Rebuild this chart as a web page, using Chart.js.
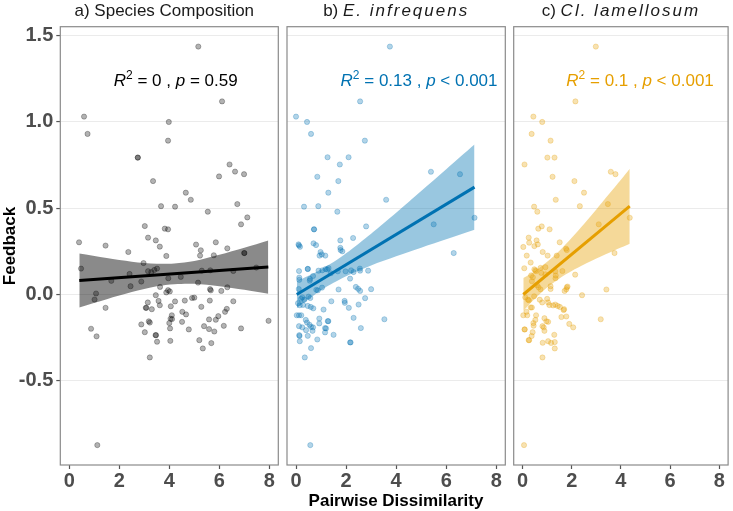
<!DOCTYPE html>
<html><head><meta charset="utf-8">
<script src="https://cdn.jsdelivr.net/npm/chart.js@4.4.1/dist/chart.umd.min.js"></script>
<style>
html,body{margin:0;padding:0;background:#fff;}
#wrap{position:relative;width:733px;height:511px;background:#fff;}
canvas{position:absolute;left:0;top:0;}
</style></head><body>
<div id="wrap">
<canvas id="ca" width="733" height="511"></canvas>
<canvas id="cb" width="733" height="511"></canvas>
<canvas id="cc" width="733" height="511"></canvas>
</div>
<script>
// ---------------- DATA ----------------
const panelPrefix = ['a) ', 'b) ', 'c) '];
const panelNames = ['Species Composition', 'E. infrequens', 'Cl. lamellosum'];
const panelItalic = [false, true, true];
const r2Labels = ['0', '0.13', '0.1'];
const pOps = ['=', '<', '<'];
const pVals = ['0.59', '0.001', '0.001'];
const xTicks = [0, 2, 4, 6, 8];
const yTicks = [-0.5, 0, 0.5, 1, 1.5];
const yTickLabels = ['-0.5', '0.0', '0.5', '1.0', '1.5'];
const xTitle = 'Pairwise Dissimilarity';
const yTitle = 'Feedback';

// Panel a: Species Composition
const aX = [5.16,0.59,0.73,3.98,3.95,6.11,2.74,2.74,3.35,6.41,6.63,6.99,5.99,4.66,4.86,3.67,4.23,6.72,5.54,7.12,3.02,6.87,3.82,3.95,0.39,1.45,3.15,3.46,3.62,2.36,5.07,5.26,5.86,6.32,7.0,7.0,3.88,5.23,5.78,0.47,2.41,1.68,2.45,2.88,2.97,3.15,3.28,3.4,3.51,3.96,4.46,5.15,3.63,3.95,3.88,4.02,5.64,5.3,6.56,7.48,5.63,5.66,6.32,6.08,1.07,1.01,3.46,3.14,3.57,3.62,4.06,4.23,4.62,4.91,5.0,5.28,5.62,6.56,6.3,6.23,1.45,3.06,3.08,3.3,4.52,4.67,4.1,4.05,4.11,4.0,5.59,5.86,5.96,7.97,3.18,3.22,4.51,2.88,5.39,6.18,0.87,4.03,4.78,5.59,5.8,6.87,3.02,1.09,3.45,3.47,3.51,4.04,5.2,5.68,5.34,3.22,1.12];
const aY = [1.434,1.029,0.929,0.998,0.89,1.117,0.792,0.792,0.656,0.752,0.711,0.696,0.683,0.589,0.548,0.511,0.508,0.523,0.479,0.446,0.396,0.406,0.381,0.377,0.302,0.283,0.329,0.313,0.277,0.246,0.289,0.256,0.302,0.267,0.24,0.24,0.223,0.225,0.227,0.15,0.119,0.079,0.048,0.075,0.182,0.135,0.13,0.142,0.15,0.094,0.102,0.069,0.044,0.025,0.012,0.018,0.14,0.138,0.136,0.156,0.031,0.024,0.042,0.021,0.006,-0.029,-0.004,-0.046,-0.037,-0.062,-0.068,-0.04,-0.035,-0.02,-0.018,-0.071,-0.035,-0.039,-0.083,-0.1,-0.077,-0.077,-0.077,-0.085,-0.1,-0.115,-0.12,-0.14,-0.142,-0.165,-0.144,-0.146,-0.125,-0.152,-0.155,-0.162,-0.158,-0.173,-0.183,-0.181,-0.198,-0.196,-0.202,-0.2,-0.214,-0.196,-0.218,-0.242,-0.235,-0.235,-0.273,-0.268,-0.264,-0.281,-0.312,-0.364,-0.871];
const aLineX = [0.4, 7.96];
const aLineY = [0.081, 0.159];
const aBandX = [0.4, 1.5, 2.5, 3.5, 4.2, 5, 6, 7, 7.96];
const aBandLo = [-0.075, -0.027, 0.014, 0.048, 0.06, 0.062, 0.048, 0.027, 0.005];
const aBandHi = [0.237, 0.211, 0.19, 0.178, 0.18, 0.194, 0.23, 0.271, 0.313];

// Panel b: E. infrequens
const bX = [3.75,0.0,0.44,0.6,2.56,2.75,1.26,2.1,1.75,0.85,1.69,1.29,5.39,6.55,3.6,0.32,0.89,1.65,7.13,0.72,0.72,2.8,5.5,2.28,1.77,0.12,0.1,0.16,0.7,0.8,1.78,1.85,0.98,1.03,1.17,0.94,6.3,1.77,0.12,0.47,0.47,0.13,0.13,0.56,0.55,0.68,0.9,1.05,1.18,1.3,1.25,1.39,1.67,1.98,2.2,2.3,2.55,2.56,2.88,2.16,2.39,2.48,2.56,3.0,1.7,1.04,0.81,0.87,0.11,0.25,0.2,0.33,0.5,0.57,0.15,0.28,0.08,0.47,0.59,0.69,1.1,1.41,1.94,1.95,2.11,2.5,2.76,0.03,0.12,0.21,0.39,0.44,0.54,0.6,0.93,0.93,1.27,1.29,1.16,1.2,0.12,0.25,0.4,0.68,0.66,0.13,0.14,0.15,0.47,0.85,1.16,1.5,2.3,2.59,3.53,2.16,2.18,0.6,0.35,0.57];
const bY = [1.434,1.029,0.998,0.929,1.117,0.89,0.794,0.794,0.752,0.681,0.656,0.589,0.71,0.696,0.548,0.508,0.511,0.479,0.444,0.377,0.377,0.394,0.406,0.327,0.313,0.284,0.29,0.276,0.296,0.286,0.257,0.25,0.246,0.232,0.225,0.225,0.24,0.27,0.136,0.148,0.148,0.098,0.085,0.09,0.08,0.107,0.138,0.14,0.147,0.153,0.145,0.123,0.134,0.134,0.14,0.13,0.15,0.138,0.138,0.092,0.044,0.033,0.021,0.031,0.029,0.04,0.027,0.024,0.032,-0.016,-0.025,-0.03,-0.012,-0.02,-0.062,-0.06,-0.05,-0.066,-0.072,-0.08,-0.087,-0.039,-0.037,-0.048,-0.077,-0.058,-0.021,-0.12,-0.12,-0.12,-0.147,-0.162,-0.175,-0.187,-0.139,-0.167,-0.154,-0.154,-0.194,-0.196,-0.183,-0.19,-0.206,-0.19,-0.21,-0.235,-0.24,-0.27,-0.239,-0.26,-0.219,-0.233,-0.135,-0.194,-0.143,-0.277,-0.277,-0.31,-0.364,-0.871];
const bLineX = [0.03, 7.13];
const bLineY = [0.0, 0.621];
const bBandX = [0.03, 0.5, 1, 1.5, 2, 3, 4, 5, 6, 7.13];
const bBandLo = [-0.079, -0.027, 0.025, 0.068, 0.106, 0.168, 0.221, 0.271, 0.319, 0.375];
const bBandHi = [0.079, 0.109, 0.145, 0.188, 0.238, 0.352, 0.473, 0.599, 0.725, 0.867];

// Panel c: Cl. lamellosum
const cX = [2.98,0.44,0.8,0.37,2.15,1.14,1.01,1.3,0.08,3.59,3.78,1.22,2.11,2.5,1.35,2.33,0.47,0.6,3.47,4.36,0.64,0.78,1.1,3.1,0.25,0.27,0.57,0.48,0.62,0.03,1.51,0.82,1.02,1.39,0.17,1.77,1.8,3.74,0.33,0.07,0.48,0.52,0.55,0.73,0.93,0.76,0.93,0.35,0.42,0.38,1.33,1.34,1.35,1.62,2.14,0.59,0.65,0.73,1.14,1.14,1.78,1.8,1.83,1.71,2.42,3.41,0.11,0.22,0.26,0.47,0.7,0.8,1.0,1.04,1.09,1.24,1.33,1.52,1.69,1.43,0.03,0.16,0.19,0.33,0.38,0.55,0.52,0.44,0.45,0.89,0.97,1.04,1.58,1.67,1.78,1.9,2.06,0.81,0.86,0.89,0.08,0.09,0.41,0.37,1.29,1.04,1.16,0.27,0.25,0.82,1.31,1.31,3.18,0.81,0.06];
const cY = [1.434,1.029,0.998,0.929,1.117,0.89,0.792,0.792,0.752,0.71,0.696,0.681,0.656,0.589,0.548,0.511,0.508,0.479,0.523,0.444,0.381,0.394,0.377,0.406,0.329,0.3,0.313,0.28,0.29,0.275,0.302,0.246,0.225,0.225,0.225,0.265,0.257,0.24,0.185,0.152,0.146,0.14,0.135,0.154,0.158,0.125,0.117,0.111,0.1,0.077,0.134,0.094,0.11,0.136,0.115,0.054,0.042,0.03,0.048,0.032,0.03,0.042,0.046,0.021,-0.004,0.029,-0.016,-0.03,-0.033,-0.01,-0.03,-0.046,-0.025,-0.046,-0.061,-0.063,-0.058,-0.072,-0.085,-0.066,-0.12,-0.1,-0.12,-0.075,-0.075,-0.12,-0.147,-0.165,-0.18,-0.137,-0.155,-0.158,-0.13,-0.09,-0.127,-0.17,-0.19,-0.183,-0.19,-0.21,-0.202,-0.202,-0.218,-0.24,-0.233,-0.27,-0.28,-0.264,-0.264,-0.279,-0.275,-0.312,-0.143,-0.364,-0.871];
const cLineX = [0.03, 4.36];
const cLineY = [0.0, 0.511];
const cBandX = [0.03, 0.5, 1, 1.5, 2, 2.5, 3, 3.5, 4, 4.36];
const cBandLo = [-0.095, -0.025, 0.04, 0.093, 0.136, 0.173, 0.208, 0.24, 0.272, 0.294];
const cBandHi = [0.095, 0.135, 0.189, 0.253, 0.328, 0.408, 0.492, 0.578, 0.664, 0.728];

// ---------------- STYLE / LAYOUT ----------------
const FONT = '"Liberation Sans", Arial, Helvetica, sans-serif';
const X_MIN = -0.36, X_MAX = 8.36, Y_MIN = -0.986, Y_MAX = 1.549;
const ANN_X = 1.78, ANN_Y = 1.205;
const W = 733, H = 511;
const PANEL_TOP = 26.7, PANEL_BOTTOM = 465;
const panelLeft = [60.3, 287, 513.7];
const panelRight = [278.3, 505.3, 731.7];
const titleShift = [-5, 0, 0];
const TICK_SIZE = 20;
const styles = [
  {pt:'rgba(0,0,0,0.3)', line:'#000000', band:'rgba(0,0,0,0.46)', text:'#000000'},
  {pt:'rgba(0,114,178,0.3)', line:'#0072B2', band:'rgba(0,114,178,0.4)', text:'#0072B2'},
  {pt:'rgba(230,159,0,0.3)', line:'#E69F00', band:'rgba(230,159,0,0.4)', text:'#E69F00'}
];

const zip = (xs, ys) => xs.map((x, i) => ({x, y: ys[i]}));

function drawSegs(ctx, segs, x, y, size, weight, color, align) {
  const fontFor = s => `${s.it ? 'italic ' : ''}${weight} ${s.sup ? Math.round(size*0.7) : size}px ${FONT}`;
  const widthOf = s => {
    ctx.font = fontFor(s);
    let w = 0;
    for (const ch of s.t) w += ctx.measureText(ch).width + (s.ls || 0);
    return w;
  };
  let total = segs.reduce((a, s) => a + widthOf(s), 0);
  let cx = align === 'center' ? x - total/2 : x;
  ctx.fillStyle = color;
  ctx.textBaseline = 'alphabetic';
  ctx.textAlign = 'left';
  for (const s of segs) {
    ctx.font = fontFor(s);
    const yy = s.sup ? y - size*0.42 : y;
    for (const ch of s.t) {
      ctx.fillText(ch, cx, yy);
      cx += ctx.measureText(ch).width + (s.ls || 0);
    }
  }
}

const decor = {
  id: 'decor',
  afterDatasetsDraw(chart, args, o) {
    const ctx = chart.ctx, ca = chart.chartArea;
    const xs = chart.scales.x, ys = chart.scales.y;
    const i = o.idx;
    ctx.save();
    ctx.strokeStyle = '#8a8a8a';
    ctx.lineWidth = 1.2;
    ctx.strokeRect(ca.left, ca.top, ca.right - ca.left, ca.bottom - ca.top);
    const ax = xs.getPixelForValue(ANN_X), ay = ys.getPixelForValue(ANN_Y);
    drawSegs(ctx, [
      {t:'R', it:true}, {t:'2', sup:true}, {t:' = ' + r2Labels[i] + ' , '},
      {t:'p', it:true}, {t:' ' + pOps[i] + ' ' + pVals[i]}
    ], ax, ay, 17, 'normal', styles[i].text, 'left');
    const cxm = (ca.left + ca.right)/2 + titleShift[i];
    drawSegs(ctx, [
      {t: panelPrefix[i]}, {t: panelNames[i], it: panelItalic[i], ls: panelItalic[i] ? 2 : 0}
    ], cxm, 15.5, 17, 'normal', '#1a1a1a', 'center');
    if (i === 0) {
      ctx.font = `bold 17px ${FONT}`;
      ctx.fillStyle = '#000';
      ctx.textAlign = 'center';
      ctx.textBaseline = 'alphabetic';
      ctx.fillText(xTitle, (panelLeft[0] + panelRight[2])/2, 505.5);
      ctx.save();
      ctx.translate(14.5, 246);
      ctx.rotate(-Math.PI/2);
      ctx.fillText(yTitle, 0, 0);
      ctx.restore();
    }
    ctx.restore();
  }
};

function makePanel(id, i, px, py, lx, ly, bx, blo, bhi) {
  const st = styles[i];
  const first = i === 0;
  new Chart(document.getElementById(id), {
    type: 'line',
    data: {
      datasets: [
        {data: zip(lx, ly), borderColor: st.line, borderWidth: 3, pointRadius: 0, fill: false, tension: 0},
        {data: zip(bx, blo), borderWidth: 0, borderColor: 'rgba(0,0,0,0)', pointRadius: 0, fill: false, tension: 0.3},
        {data: zip(bx, bhi), borderWidth: 0, borderColor: 'rgba(0,0,0,0)', pointRadius: 0, fill: '-1', backgroundColor: st.band, tension: 0.3},
        {data: zip(px, py), showLine: false, pointRadius: 2.6, pointBorderWidth: 0.9,
         pointBackgroundColor: st.pt, pointBorderColor: st.pt, fill: false}
      ]
    },
    options: {
      responsive: false,
      animation: false,
      devicePixelRatio: 1,
      events: [],
      layout: {padding: {left: first ? 0 : panelLeft[i], right: W - panelRight[i], top: PANEL_TOP, bottom: 0}},
      plugins: {legend: {display: false}, tooltip: {enabled: false}, title: {display: false}, decor: {idx: i}},
      scales: {
        x: {
          type: 'linear', min: X_MIN, max: X_MAX,
          afterBuildTicks: s => { s.ticks = xTicks.map(v => ({value: v})); },
          afterFit: s => { s.height = H - PANEL_BOTTOM; },
          grid: {display: true, drawOnChartArea: false, drawTicks: true, tickLength: 4, tickColor: '#555', tickWidth: 1.2},
          border: {display: false},
          ticks: {color: '#4d4d4d', font: {family: FONT, size: TICK_SIZE, weight: 'bold'}, padding: 0, maxRotation: 0,
                  callback: v => String(v)}
        },
        y: {
          type: 'linear', min: Y_MIN, max: Y_MAX,
          afterBuildTicks: s => { s.ticks = yTicks.map(v => ({value: v})); },
          afterFit: s => { s.width = first ? panelLeft[0] : 0; },
          grid: {display: true, drawOnChartArea: true, color: '#ebebeb', lineWidth: 1.1,
                 drawTicks: first, tickLength: 4, tickColor: '#555', tickWidth: 1.2},
          border: {display: false},
          ticks: {display: first, color: '#4d4d4d', font: {family: FONT, size: TICK_SIZE, weight: 'bold'}, padding: 3,
                  callback: v => yTickLabels[yTicks.indexOf(v)]}
        }
      }
    },
    plugins: [decor]
  });
}

makePanel('ca', 0, aX, aY, aLineX, aLineY, aBandX, aBandLo, aBandHi);
makePanel('cb', 1, bX, bY, bLineX, bLineY, bBandX, bBandLo, bBandHi);
makePanel('cc', 2, cX, cY, cLineX, cLineY, cBandX, cBandLo, cBandHi);
</script>
</body></html>
